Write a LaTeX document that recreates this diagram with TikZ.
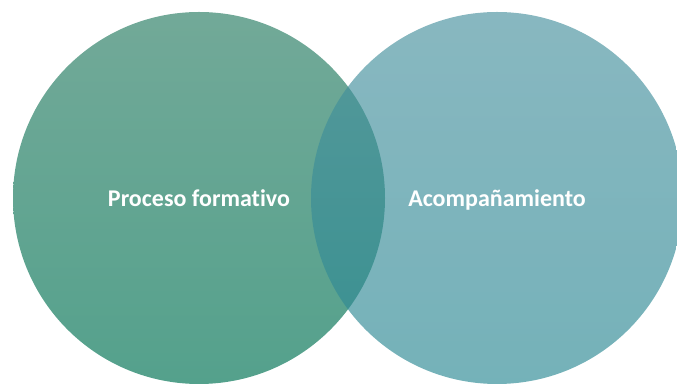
\documentclass[tikz,border=0pt]{standalone}
\usepackage{fontspec}
\setmainfont[Ligatures=NoCommon]{Carlito}
\usepackage{tikz}
\usetikzlibrary{shapes,positioning}
\definecolor{formTop}{RGB}{114,169,152}
\definecolor{formBot}{RGB}{84,161,140}
\definecolor{acompTop}{RGB}{72,145,158}
\definecolor{acompBot}{RGB}{42,136,147}

\begin{document}
\begin{tikzpicture}[x=1pt,y=1pt,
  setcircle/.style={circle,minimum size=372pt,inner sep=0pt,
    text height=17pt,text depth=0pt,
    font=\bfseries\fontsize{24}{28}\selectfont,text=white}]
\useasboundingbox (0,0) rectangle (677,385);
\node[setcircle,top color=formTop,bottom color=formBot] (proceso) at (199,187) {Proceso formativo};
\node[setcircle,top color=acompTop,bottom color=acompBot,fill opacity=0.65,text opacity=1] (acomp) at (497,187) {Acompañamiento};
\end{tikzpicture}
\end{document}
